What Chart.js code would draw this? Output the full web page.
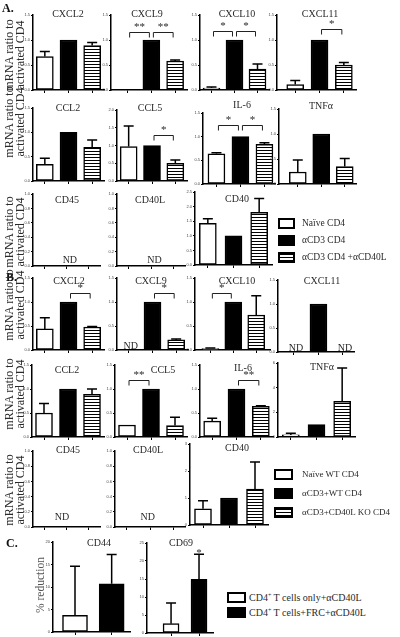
<!DOCTYPE html>
<html>
<head>
<meta charset="utf-8">
<script src="https://cdn.jsdelivr.net/npm/chart.js@4.4.0/dist/chart.umd.min.js"></script>
<style>
  body { margin: 0; background: #fff; }
  #fig { position: relative; width: 400px; height: 637px; overflow: hidden;
         font-family: "Liberation Serif", "DejaVu Serif", serif; color: #2a2a2a; }
  #fig canvas { position: absolute; }
  .t { position: absolute; font-size: 10px; line-height: 10px; white-space: nowrap; transform: translate(-50%, -50%); }
  .p { position: absolute; font-size: 12px; font-weight: bold; line-height: 12px; color: #111; }
  .yt { position: absolute; font-size: 12px; line-height: 11px; text-align: center; white-space: nowrap;
        transform: translate(-50%, -50%) rotate(-90deg); }
  .lt { position: absolute; font-size: 9px; line-height: 10px; white-space: nowrap; transform: translateY(-50%); }
  .lt sup { font-size: 6px; vertical-align: 4px; line-height: 0; }
  .lb { position: absolute; box-sizing: border-box; border: 2px solid #000; }
</style>
</head>
<body>
<div id="fig"></div>
<script>
// ---------- data ----------
const groupsA = ['Naïve CD4', 'αCD3 CD4', 'αCD3 CD4 +αCD40L'];
const groupsB = ['Naïve WT CD4', 'αCD3+WT CD4', 'αCD3+CD40L KO CD4'];
const groupsC = ['CD4<sup>+</sup> T cells only+αCD40L', 'CD4<sup>+</sup> T cells+FRC+αCD40L'];

// panel A (mean, upper error), order: naive / aCD3 / aCD3+aCD40L
const aCxcl2 = [0.67, 1.00, 0.89], aCxcl2Err = [0.10, 0, 0.06];
const aCxcl9 = [0.01, 1.00, 0.58], aCxcl9Err = [0, 0, 0.02];
const aCxcl10 = [0.04, 1.00, 0.42], aCxcl10Err = [0.02, 0, 0.10];
const aCxcl11 = [0.11, 1.00, 0.50], aCxcl11Err = [0.08, 0, 0.05];
const aCcl2 = [0.34, 1.00, 0.69], aCcl2Err = [0.13, 0, 0.15];
const aCcl5 = [0.97, 1.00, 0.50], aCcl5Err = [0.58, 0, 0.09];
const aIl6 = [0.64, 1.00, 0.84], aIl6Err = [0.02, 0, 0.03];
const aTnf = [0.24, 1.00, 0.35], aTnfErr = [0.24, 0, 0.16];
const aCd45 = [null, null, null];
const aCd40l = [null, null, null];
const aCd40 = [1.43, 1.00, 1.80], aCd40Err = [0.15, 0, 0.48];

// panel B
const bCxcl2 = [0.44, 1.00, 0.48], bCxcl2Err = [0.23, 0, 0.01];
const bCxcl9 = [null, 1.00, 0.21], bCxcl9Err = [0, 0, 0.02];
const bCxcl10 = [0.03, 1.00, 0.73], bCxcl10Err = [0.01, 0, 0.40];
const bCxcl11 = [null, 1.00, null];
const bCcl2 = [0.50, 1.00, 0.89], bCcl2Err = [0.20, 0, 0.11];
const bCcl5 = [0.25, 1.00, 0.24], bCcl5Err = [0, 0, 0.17];
const bIl6 = [0.33, 1.00, 0.64], bIl6Err = [0.06, 0, 0.01];
const bTnf = [0.17, 1.00, 2.90], bTnfErr = [0.13, 0, 2.70];
const bCd45 = [null, null, null];
const bCd40l = [null, null, null];
const bCd40 = [0.60, 1.00, 1.33], bCd40Err = [0.30, 0, 1.00];

// panel C (% reduction)
const cCd44 = [3.7, 10.7], cCd44Err = [10.9, 6.5];
const cCd69 = [2.6, 14.9], cCd69Err = [5.7, 7.0];

// significance: [from, to, label, level]
const aCxcl9Sig = [[0, 1, '**', 1.16], [1, 2, '**', 1.16]];
const aCxcl10Sig = [[0, 1, '*', 1.18], [1, 2, '*', 1.18]];
const aCxcl11Sig = [[1, 2, '*', 1.22]];
const aCcl5Sig = [[1, 2, '*', 1.3]];
const aIl6Sig = [[0, 1, '*', 1.25], [1, 2, '*', 1.25]];
const bCxcl2Sig = [[1, 2, '*', 1.19]];
const bCxcl9Sig = [[1, 2, '*', 1.19]];
const bCxcl10Sig = [[0, 1, '*', 1.19]];
const bCcl5Sig = [[0, 1, '**', 1.19]];
const bIl6Sig = [[1, 2, '**', 1.19]];
const cCd69Sig = [[1, 1, '*', 20.8]];

// ---------- layout ----------
const YW = 15, XH = 4, TP = 8, RP = 4;
const fig = document.getElementById('fig');
const SERIF = '"Liberation Serif", "DejaVu Serif", serif';

const specs = [
  // A
  { title: 'CXCL2', vals: aCxcl2, err: aCxcl2Err, max: 1.5, step: 0.5, box: [33, 15, 104, 90], tt: [68, 13.5] },
  { title: 'CXCL9', vals: aCxcl9, err: aCxcl9Err, sig: aCxcl9Sig, max: 1.5, step: 0.5, box: [111, 15, 187, 90], xr: [-0.7, 2.5], tt: [147, 13.5] },
  { title: 'CXCL10', vals: aCxcl10, err: aCxcl10Err, sig: aCxcl10Sig, max: 1.5, step: 0.5, box: [200, 15, 269, 90], tt: [237, 13.5] },
  { title: 'CXCL11', vals: aCxcl11, err: aCxcl11Err, sig: aCxcl11Sig, max: 1.5, step: 0.5, box: [277, 15, 356, 90], xr: [-0.75, 2.5], tt: [320, 13.5] },
  { title: 'CCL2', vals: aCcl2, err: aCcl2Err, max: 1.5, step: 0.5, box: [33, 108, 104, 181], tt: [68, 107.5] },
  { title: 'CCL5', vals: aCcl5, err: aCcl5Err, sig: aCcl5Sig, max: 2.0, step: 0.5, box: [117, 110, 187, 181], tt: [150, 107.5] },
  { title: 'IL-6', vals: aIl6, err: aIl6Err, sig: aIl6Sig, max: 1.5, step: 0.5, box: [203, 113, 275, 184], xr: [-0.56, 2.44], tt: [242, 105] },
  { title: 'TNFα', vals: aTnf, err: aTnfErr, max: 1.5, step: 0.5, box: [279, 109, 356, 184], xr: [-0.8, 2.48], tt: [321, 105.5] },
  { title: 'CD45', vals: aCd45, max: 1.0, step: 0.2, box: [33, 194, 100, 266], nd: [1.15, 3], tt: [67, 200] },
  { title: 'CD40L', vals: aCd40l, max: 1.0, step: 0.2, box: [117, 194, 185, 266], nd: [1.15, 3], tt: [150, 200] },
  { title: 'CD40', vals: aCd40, err: aCd40Err, max: 2.5, step: 0.5, box: [195, 192, 272, 265], tt: [237, 199] },
  // B
  { title: 'CXCL2', vals: bCxcl2, err: bCxcl2Err, sig: bCxcl2Sig, max: 1.5, step: 0.5, box: [33, 278, 104, 350], tt: [69, 281] },
  { title: 'CXCL9', vals: bCxcl9, err: bCxcl9Err, sig: bCxcl9Sig, max: 1.5, step: 0.5, box: [117, 278, 188, 350], tt: [151, 281] },
  { title: 'CXCL10', vals: bCxcl10, err: bCxcl10Err, sig: bCxcl10Sig, max: 1.5, step: 0.5, box: [195, 278, 270, 350], xr: [-0.67, 2.6], tt: [237, 281] },
  { title: 'CXCL11', vals: bCxcl11, max: 1.5, step: 0.5, box: [278, 280, 354, 352], xr: [-0.65, 2.45], tt: [322, 281] },
  { title: 'CCL2', vals: bCcl2, err: bCcl2Err, max: 1.5, step: 0.5, box: [32, 365, 104, 437], tt: [67, 370] },
  { title: 'CCL5', vals: bCcl5, err: bCcl5Err, sig: bCcl5Sig, max: 1.5, step: 0.5, box: [115, 365, 187, 437], tt: [163, 370] },
  { title: 'IL-6', vals: bIl6, err: bIl6Err, sig: bIl6Sig, max: 1.5, step: 0.5, box: [200, 365, 273, 437], tt: [243, 368] },
  { title: 'TNFα', vals: bTnf, err: bTnfErr, max: 6, step: 2, dec: 0, box: [278, 363, 355, 437], tt: [322, 367] },
  { title: 'CD45', vals: bCd45, max: 1.0, step: 0.2, box: [33, 451, 100, 527], nd: [0.8, 7], tt: [68, 450] },
  { title: 'CD40L', vals: bCd40l, max: 1.0, step: 0.2, box: [115, 451, 185, 527], nd: [0.9, 7], tt: [148, 450] },
  { title: 'CD40', vals: bCd40, err: bCd40Err, max: 3, step: 1, dec: 0, box: [190, 444, 268, 525], tt: [237, 448] },
  // C
  { title: 'CD44', vals: cCd44, err: cCd44Err, max: 20, step: 5, dec: 0, box: [53, 542, 130, 632], xr: [-0.6, 1.5], bw: 25, fills: ['#fff', '#000'], tt: [99, 543] },
  { title: 'CD69', vals: cCd69, err: cCd69Err, sig: cCd69Sig, max: 25, step: 5, dec: 0, box: [147, 543, 213, 633], xr: [-0.86, 1.5], bw: 16, fills: ['#fff', '#000'], tt: [181, 543] }
];

function stripe(ctx) {
  const c = document.createElement('canvas');
  c.width = 4; c.height = 3;
  const g = c.getContext('2d');
  g.fillStyle = '#fff'; g.fillRect(0, 0, 4, 3);
  g.fillStyle = '#000'; g.fillRect(0, 0, 4, 1);
  return ctx.createPattern(c, 'repeat');
}

// error bars, significance brackets and ND labels
function marks(s) {
  return {
    id: 'marks',
    afterDatasetsDraw(chart) {
      const { ctx, scales: { x, y }, chartArea } = chart;
      const meta = chart.getDatasetMeta(0);
      ctx.save();
      ctx.strokeStyle = '#000';
      ctx.lineWidth = 1.5;
      (s.err || []).forEach((e, i) => {
        const v = s.vals[i];
        if (v == null || !e) return;
        const bar = meta.data[i];
        const yt = y.getPixelForValue(v + e);
        ctx.beginPath();
        ctx.moveTo(bar.x, bar.y); ctx.lineTo(bar.x, yt);
        ctx.moveTo(bar.x - 5, yt); ctx.lineTo(bar.x + 5, yt);
        ctx.stroke();
      });
      ctx.fillStyle = '#2a2a2a';
      ctx.textAlign = 'center';
      ctx.textBaseline = 'alphabetic';
      ctx.strokeStyle = '#222';
      ctx.lineWidth = 1;
      (s.sig || []).forEach(([a, b, txt, lv]) => {
        const yl = Math.round(y.getPixelForValue(lv)) + 0.5;
        let xm = x.getPixelForValue(a);
        if (a !== b) {
          const x1 = x.getPixelForValue(a) + 2, x2 = x.getPixelForValue(b) - 2;
          ctx.beginPath();
          ctx.moveTo(x1, yl + 5); ctx.lineTo(x1, yl); ctx.lineTo(x2, yl); ctx.lineTo(x2, yl + 5);
          ctx.stroke();
          xm = (x1 + x2) / 2;
        }
        ctx.font = '11px ' + SERIF;
        ctx.fillText(txt, xm, yl - 3);
      });
      ctx.font = '10px ' + SERIF;
      if (s.nd) {
        ctx.fillText('ND', x.getPixelForValue(s.nd[0]), chartArea.bottom - s.nd[1]);
      } else {
        s.vals.forEach((v, i) => {
          if (v == null) ctx.fillText('ND', x.getPixelForValue(i) + 2, chartArea.bottom - 1);
        });
      }
      ctx.restore();
    }
  };
}

function makeChart(s) {
  const [l, t, r, b] = s.box;
  const xr = s.xr || [-0.5, s.vals.length - 0.5];
  const cv = document.createElement('canvas');
  cv.width = r - l + YW + RP;
  cv.height = b - t + TP + XH;
  cv.style.left = (l - YW) + 'px';
  cv.style.top = (t - TP) + 'px';
  fig.appendChild(cv);
  const ctx = cv.getContext('2d');
  const fills = (s.fills || ['#fff', '#000', 'stripe']).map(f => f === 'stripe' ? stripe(ctx) : f);
  const dec = s.dec === undefined ? 1 : s.dec;
  new Chart(ctx, {
    type: 'bar',
    data: {
      datasets: [{
        data: s.vals.map((v, i) => ({ x: i, y: v })),
        backgroundColor: fills,
        borderColor: '#000',
        borderWidth: 1.5,
        borderSkipped: false,
        barThickness: s.bw || 17
      }]
    },
    options: {
      responsive: false,
      animation: false,
      events: [],
      layout: { padding: { top: TP, right: RP, left: 0, bottom: 0 } },
      plugins: { legend: { display: false }, tooltip: { enabled: false } },
      scales: {
        x: {
          type: 'linear', min: xr[0], max: xr[1], offset: false,
          afterBuildTicks: sc => { sc.ticks = s.vals.map((v, i) => ({ value: i })); },
          afterFit: sc => { sc.height = XH; },
          ticks: { display: false },
          grid: { offset: false, drawOnChartArea: false, tickLength: 3, color: '#000', lineWidth: 1 },
          border: { color: '#000', width: 1.5 }
        },
        y: {
          min: 0, max: s.max,
          afterFit: sc => { sc.width = YW; },
          ticks: {
            stepSize: s.step, padding: 1, color: '#444',
            font: { size: 4, family: '"Liberation Sans", Arial, sans-serif' },
            callback: v => v.toFixed(dec)
          },
          grid: { drawOnChartArea: false, tickLength: 2, color: '#000', lineWidth: 1 },
          border: { color: '#000', width: 1.5 }
        }
      }
    },
    plugins: [marks(s)]
  });
}

function addText(cls, html, x, y) {
  const d = document.createElement('div');
  d.className = cls;
  d.innerHTML = html;
  d.style.left = x + 'px';
  d.style.top = y + 'px';
  fig.appendChild(d);
  return d;
}

function addLegend(names, fills, bx, bw, tx, ys, size) {
  names.forEach((n, i) => {
    const box = addText('lb', '', bx, ys[i] - 5.5);
    box.style.width = bw + 'px';
    box.style.height = '11px';
    box.style.background = fills[i];
    const t = addText('lt', n, tx, ys[i]);
    t.style.fontSize = size + 'px';
  });
}

specs.forEach(s => {
  makeChart(s);
  addText('t', s.title, s.tt[0], s.tt[1]);
});

addText('p', 'A.', 2, 2);
addText('p', 'B.', 6, 271);
addText('p', 'C.', 6, 537);

const yTitle = 'mRNA ratio to<br>activated CD4';
[55, 122, 232, 305, 394, 490].forEach(cy => addText('yt', yTitle, 15, cy));
const pr = addText('yt', '% reduction', 40, 585);
pr.style.fontSize = '11.5px';
pr.style.color = '#555';

const stripeCss = 'repeating-linear-gradient(#000 0 1px, #fff 1px 3px)';
addLegend(groupsA, ['#fff', '#000', stripeCss], 278, 17, 302, [223, 240, 257], 9.5);
addLegend(groupsB, ['#fff', '#000', stripeCss], 274, 19, 302, [474, 493, 512], 9);
addLegend(groupsC, ['#fff', '#000'], 227, 19, 249, [597.5, 612.5], 10);
</script>
</body>
</html>
